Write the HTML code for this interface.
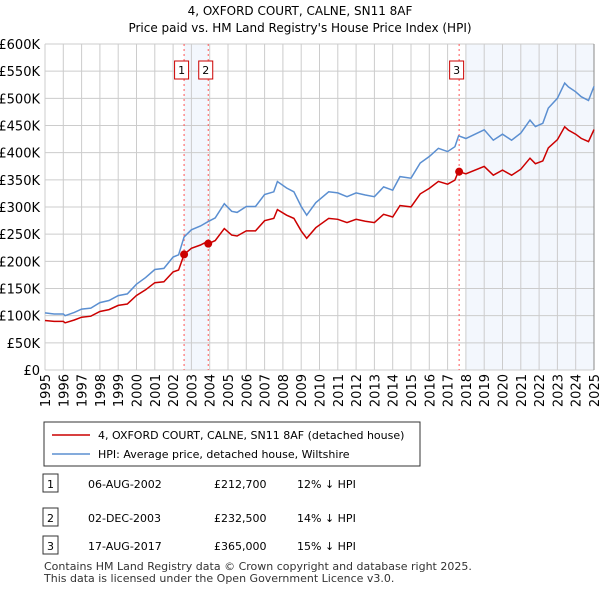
<!DOCTYPE html>
<html><head><meta charset="utf-8"><style>
body{margin:0;background:#fff;font-family:"DejaVu Sans","Liberation Sans",sans-serif;}
svg text{font-family:"DejaVu Sans","Liberation Sans",sans-serif;}
</style></head><body>
<svg id="c" width="600" height="590" viewBox="0 0 600 590" xmlns="http://www.w3.org/2000/svg">
<text x="300" y="15" text-anchor="middle" font-size="12">4, OXFORD COURT, CALNE, SN11 8AF</text>
<text x="300" y="32" text-anchor="middle" font-size="12">Price paid vs. HM Land Registry's House Price Index (HPI)</text>
<g id="plot"></g>
<g>
<rect x="44" y="422" width="376" height="44" fill="#fff" stroke="#333"/>
<line x1="52" y1="435" x2="90" y2="435" stroke="#cc0000" stroke-width="1.5"/>
<text x="98" y="439" font-size="11">4, OXFORD COURT, CALNE, SN11 8AF (detached house)</text>
<line x1="52" y1="454" x2="90" y2="454" stroke="#5b8fd1" stroke-width="1.5"/>
<text x="98" y="458" font-size="11">HPI: Average price, detached house, Wiltshire</text>
</g>
<g id="table" font-size="11"></g>
<text x="44" y="570" font-size="11" fill="#333">Contains HM Land Registry data © Crown copyright and database right 2025.</text>
<text x="44" y="582" font-size="11" fill="#333">This data is licensed under the Open Government Licence v3.0.</text>
</svg>
<script>
const hpiYears=[1995,1995.5,1996,1996.1,1996.6,1997,1997.5,1998,1998.5,1999,1999.5,2000,2000.5,2001,2001.5,2002,2002.3,2002.6,2003,2003.5,2003.9,2004.3,2004.8,2005.2,2005.5,2006,2006.5,2007,2007.5,2007.7,2008.2,2008.6,2009,2009.3,2009.8,2010.5,2011,2011.5,2012,2012.5,2013,2013.5,2014,2014.4,2015,2015.5,2016,2016.5,2017,2017.4,2017.6,2018,2019,2019.5,2020,2020.5,2021,2021.5,2021.8,2022.2,2022.5,2023,2023.4,2023.6,2024,2024.3,2024.7,2025];
const hpiValues=[105,103,103,100,106,112,114,124,128,137,140,158,170,185,187,208,212,245,258,265,273,280,306,292,290,301,301,323,328,347,335,328,301,285,308,328,326,319,326,322,319,337,331,356,353,381,393,408,402,411,431,426,442,423,434,423,436,460,448,454,482,500,528,521,512,503,496,522];
const saleLabels=["1","2","3"];
const saleYears=[2002.6,2003.92,2017.63];
const salePrices=[212.7,232.5,365];
const saleDates=["06-AUG-2002","02-DEC-2003","17-AUG-2017"];
const salePriceText=["£212,700","£232,500","£365,000"];
const saleHpiText=["12% ↓ HPI","14% ↓ HPI","15% ↓ HPI"];
const yTicks=[0,50,100,150,200,250,300,350,400,450,500,550,600];
const xTicks=[1995,1996,1997,1998,1999,2000,2001,2002,2003,2004,2005,2006,2007,2008,2009,2010,2011,2012,2013,2014,2015,2016,2017,2018,2019,2020,2021,2022,2023,2024,2025];

const L=45,R=594,T=44,B=370;
const xs=y=>L+(y-1995)/30*(R-L);
const ys=v=>B-v/600*(B-T);
const NS="http://www.w3.org/2000/svg";
const plot=document.getElementById('plot');
function mk(tag,attrs,parent){const e=document.createElementNS(NS,tag);for(const k in attrs)e.setAttribute(k,attrs[k]);(parent||plot).appendChild(e);return e;}
function hpiAt(t){for(let i=0;i<hpiYears.length-1;i++){if(t<=hpiYears[i+1]){const f=(t-hpiYears[i])/(hpiYears[i+1]-hpiYears[i]);return hpiValues[i]+f*(hpiValues[i+1]-hpiValues[i]);}}return hpiValues[hpiValues.length-1];}

let s1=mk('rect',{x:xs(saleYears[0]),y:T,width:xs(saleYears[1])-xs(saleYears[0]),height:B-T,fill:'#eef3fc',opacity:0.7});


let s2=mk('rect',{x:xs(2018),y:T,width:R-xs(2018),height:B-T,fill:'#eef3fc',opacity:0.7});



yTicks.forEach(v=>{
 let g=mk('line',{x1:L,x2:R,y1:ys(v),y2:ys(v),stroke:'#cccccc'});
 
 
 let t=mk('text',{x:40,y:ys(v)+5,'text-anchor':'end','font-size':13});
 t.textContent=v===0?'£0':'£'+v+'K';
 
 
});
xTicks.forEach(y=>{
 let g=mk('line',{x1:xs(y),x2:xs(y),y1:T,y2:B,stroke:'#cccccc'});
 
 
 let t=mk('text',{x:0,y:0,'text-anchor':'end','font-size':13,transform:`translate(${xs(y)+5},374) rotate(-90)`});
 t.textContent=y;
 
 
});
let ax=mk('line',{x1:R,x2:R,y1:T,y2:B,stroke:'#888'});



saleYears.forEach((sy,i)=>{
 let l=mk('line',{x1:xs(sy),x2:xs(sy),y1:T,y2:B,stroke:'#ff5555','stroke-dasharray':'2,3'});
 
 
});

let d='';hpiYears.forEach((y,i)=>{d+=(i?'L':'M')+xs(y).toFixed(1)+','+ys(hpiValues[i]).toFixed(1);});
let hp=mk('path',{d:d,fill:'none',stroke:'#5b8fd1','stroke-width':1.5});



function ratioAt(t){let k=0;for(let i=0;i<saleYears.length;i++){if(t>=saleYears[i])k=i;}return salePrices[k]/hpiAt(saleYears[k]);}
let pts=[];
hpiYears.forEach(y=>pts.push(y));
saleYears.forEach(y=>{pts.push(y-0.001);pts.push(y);});
pts.sort((a,b)=>a-b);
let d2='';pts.forEach((t,i)=>{d2+=(i?'L':'M')+xs(t).toFixed(1)+','+ys(hpiAt(t)*ratioAt(t)).toFixed(1);});
let pp=mk('path',{d:d2,fill:'none',stroke:'#cc0000','stroke-width':1.5});



saleYears.forEach((sy,i)=>{
 let c=mk('circle',{cx:xs(sy),cy:ys(salePrices[i]),r:4,fill:'#cc0000'});
 
 
 let bx=xs(sy)-8.5;
 let r=mk('rect',{x:bx-1,y:61,width:14,height:18,fill:'#fff',stroke:'#cc0000'});
 
 
 let t=mk('text',{x:bx+6,y:74,'text-anchor':'middle','font-size':11});
 t.textContent=saleLabels[i];
 
 
});

const tb=document.getElementById('table');
const rowY=[484,518,546];
saleLabels.forEach((lab,i)=>{
 let y=rowY[i];
 let r=mk('rect',{x:43,y:y-10,width:15,height:18,fill:'#fff',stroke:'#333'},tb);
 
 
 const vals=[lab,saleDates[i],salePriceText[i],saleHpiText[i]];
 const xsT=[50.5,88,214,297];
 vals.forEach((v,j)=>{
  let t=mk('text',{x:xsT[j],y:y+4,'text-anchor':j===0?'middle':'start'},tb);
  t.textContent=v;
  
  
 });
});
</script>
</body></html>
